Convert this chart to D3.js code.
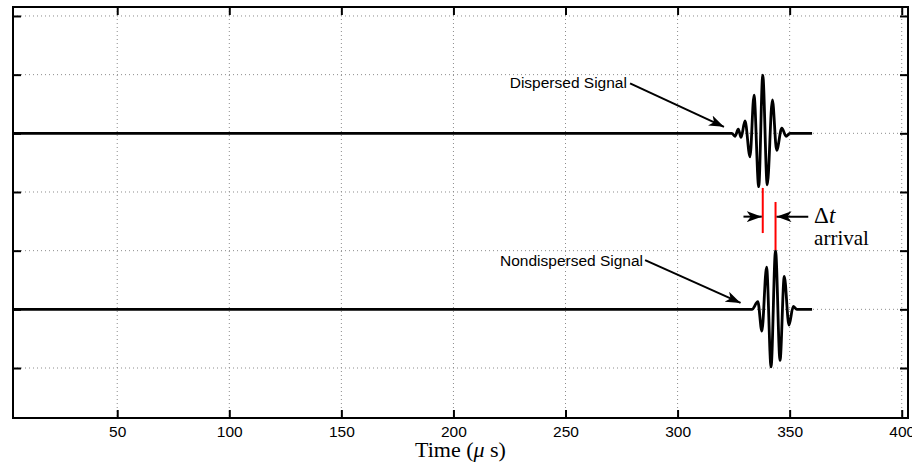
<!DOCTYPE html>
<html>
<head>
<meta charset="utf-8">
<script src="https://cdn.jsdelivr.net/npm/d3@7"></script>
<style>
  body { margin: 0; background: #fff; }
  #chart svg { display: block; }
</style>
</head>
<body>
<div id="chart"></div>
<script>
// tick values
var xTicks = [50, 100, 150, 200, 250, 300, 350, 400];
var yTicks = [-1, 0, 1, 2, 3, 4, 5];

// dispersed signal (extrema), plotted shifted up
var timeDispersed = [3.5, 324.2, 325.6, 327.1, 328.3, 330.1, 332.3, 334.1, 336.2, 338.0, 340.0, 342.3, 344.2, 346.5, 348.4, 350.1, 360];
var ampDispersed  = [0, 0, -0.05, 0.07, -0.07, 0.21, -0.40, 0.65, -0.91, 0.99, -0.88, 0.57, -0.29, 0.09, -0.05, 0, 0];
var offsetDispersed = 3;

// nondispersed signal
var timeNondispersed = [3.5, 333.2, 335.8, 337.6, 339.7, 341.7, 343.7, 345.7, 347.6, 349.7, 351.6, 353.2, 360];
var ampNondispersed  = [0, 0, 0.13, -0.37, 0.72, -0.98, 1.0, -0.87, 0.56, -0.27, 0.05, 0, 0];

function chart() {
  var margin = {top: 7, right: 4, bottom: 48, left: 13};
  var w = 912 - margin.left - margin.right;
  var h = 466 - margin.top - margin.bottom;

  var x = d3.scaleLinear()
            .domain([3.5, 402.8])
            .range([0, w]);

  var y = d3.scaleLinear()
            .domain([-1.852, 5.153])
            .range([h, 0]);

  var svg = d3.select("#chart")
              .append("svg")
              .attr("width", 912)
              .attr("height", 466);

  // arrow head, swept back like matlab's annotation arrow
  svg.append("defs")
     .append("marker")
     .attr("id", "head")
     .attr("viewBox", "0 0 15 11")
     .attr("refX", 15)
     .attr("refY", 5.5)
     .attr("markerWidth", 15)
     .attr("markerHeight", 11)
     .attr("markerUnits", "userSpaceOnUse")
     .attr("orient", "auto")
     .append("path")
     .attr("d", "M0,0 L15,5.5 L0,11 L4,5.5 Z")
     .attr("fill", "#000");

  var g = svg.append("g")
             .attr("transform", "translate(" + margin.left + "," + margin.top + ")");

  // dotted grid
  g.selectAll(".vgrid")
   .data(xTicks)
   .enter()
   .append("line")
   .attr("x1", function(d) { return x(d); })
   .attr("x2", function(d) { return x(d); })
   .attr("y1", 0)
   .attr("y2", h)
   .attr("stroke", "#8c8c8c")
   .attr("stroke-width", 1)
   .attr("stroke-dasharray", "1,3");

  g.selectAll(".hgrid")
   .data(yTicks)
   .enter()
   .append("line")
   .attr("x1", 0)
   .attr("x2", w)
   .attr("y1", function(d) { return y(d); })
   .attr("y2", function(d) { return y(d); })
   .attr("stroke", "#8c8c8c")
   .attr("stroke-width", 1)
   .attr("stroke-dasharray", "1,3");

  var line = d3.line()
               .x(function(d) { return x(d[0]); })
               .y(function(d) { return y(d[1]); })
               .curve(d3.curveMonotoneX);

  var dispersed = timeDispersed.map(function(t, i) { return [t, ampDispersed[i] + offsetDispersed]; });
  var nondispersed = timeNondispersed.map(function(t, i) { return [t, ampNondispersed[i]]; });

  g.append("path")
   .datum(dispersed)
   .attr("d", line)
   .attr("fill", "none")
   .attr("stroke", "#000")
   .attr("stroke-width", 2.8);

  g.append("path")
   .datum(nondispersed)
   .attr("d", line)
   .attr("fill", "none")
   .attr("stroke", "#000")
   .attr("stroke-width", 2.8);

  // arrival times = peaks of each signal
  var tPeakD = timeDispersed[d3.maxIndex(ampDispersed)];
  var tPeakN = timeNondispersed[d3.maxIndex(ampNondispersed)];

  g.append("line")
   .attr("x1", x(tPeakD)).attr("x2", x(tPeakD))
   .attr("y1", y(2.07)).attr("y2", y(1.30))
   .attr("stroke", "#ff0000")
   .attr("stroke-width", 2);

  g.append("line")
   .attr("x1", x(tPeakN)).attr("x2", x(tPeakN))
   .attr("y1", y(1.83)).attr("y2", y(1.01))
   .attr("stroke", "#ff0000")
   .attr("stroke-width", 2);

  // delta t arrows
  g.append("line")
   .attr("x1", x(tPeakD - 8.6)).attr("x2", x(tPeakD) - 1)
   .attr("y1", y(1.58)).attr("y2", y(1.58))
   .attr("stroke", "#000")
   .attr("stroke-width", 2)
   .attr("marker-end", "url(#head)");

  g.append("line")
   .attr("x1", x(tPeakN + 14.6)).attr("x2", x(tPeakN) + 1)
   .attr("y1", y(1.58)).attr("y2", y(1.58))
   .attr("stroke", "#000")
   .attr("stroke-width", 2)
   .attr("marker-end", "url(#head)");

  var dt = g.append("text")
            .attr("x", x(360.9))
            .attr("y", y(1.48))
            .attr("font-family", "Liberation Serif, Times New Roman, serif")
            .attr("font-size", 23)
            .attr("fill", "#000");
  dt.append("tspan").text("\u0394");
  dt.append("tspan").attr("font-style", "italic").text("t");

  g.append("text")
   .attr("x", x(360.9))
   .attr("y", y(1.10))
   .attr("font-family", "Liberation Serif, Times New Roman, serif")
   .attr("font-size", 21)
   .attr("fill", "#000")
   .text("arrival");

  // signal labels with arrows
  g.append("text")
   .attr("x", x(277.4))
   .attr("y", y(3.78))
   .attr("text-anchor", "end")
   .attr("font-family", "Liberation Sans, Arial, sans-serif")
   .attr("font-size", 15.5)
   .text("Dispersed Signal");

  g.append("line")
   .attr("x1", x(278.8)).attr("y1", y(3.85))
   .attr("x2", x(320.7)).attr("y2", y(3.11))
   .attr("stroke", "#000")
   .attr("stroke-width", 2)
   .attr("marker-end", "url(#head)");

  g.append("text")
   .attr("x", x(284.6))
   .attr("y", y(0.74))
   .attr("text-anchor", "end")
   .attr("font-family", "Liberation Sans, Arial, sans-serif")
   .attr("font-size", 15.5)
   .text("Nondispersed Signal");

  g.append("line")
   .attr("x1", x(285.5)).attr("y1", y(0.84))
   .attr("x2", x(328.1)).attr("y2", y(0.11))
   .attr("stroke", "#000")
   .attr("stroke-width", 2)
   .attr("marker-end", "url(#head)");

  // axes, ticks pointing inwards on all four sides
  var xAxis = g.append("g")
               .attr("transform", "translate(0," + h + ")")
               .call(d3.axisBottom(x).tickValues(xTicks).tickSizeInner(-8).tickSizeOuter(0).tickPadding(8));
  g.append("g")
   .call(d3.axisTop(x).tickValues(xTicks).tickSizeInner(-8).tickSizeOuter(0).tickFormat(""));
  g.append("g")
   .call(d3.axisLeft(y).tickValues(yTicks).tickSizeInner(-8).tickSizeOuter(0).tickFormat(""));
  g.append("g")
   .attr("transform", "translate(" + w + ",0)")
   .call(d3.axisRight(y).tickValues(yTicks).tickSizeInner(-8).tickSizeOuter(0).tickFormat(""));

  g.selectAll(".domain").remove();
  g.selectAll(".tick line")
   .attr("stroke", "#000")
   .attr("stroke-width", 2);

  xAxis.selectAll("text")
       .attr("font-family", "Liberation Sans, Arial, sans-serif")
       .attr("font-size", 15.5)
       .attr("fill", "#000");

  g.append("rect")
   .attr("width", w)
   .attr("height", h)
   .attr("fill", "none")
   .attr("stroke", "#000")
   .attr("stroke-width", 2);

  var label = g.append("text")
               .attr("x", w / 2)
               .attr("y", h + 39)
               .attr("text-anchor", "middle")
               .attr("font-family", "Liberation Serif, Times New Roman, serif")
               .attr("font-size", 22)
               .attr("fill", "#000");
  label.append("tspan").text("Time (");
  label.append("tspan").attr("font-style", "italic").text("\u03bc");
  label.append("tspan").text(" s)");
}

function main() {
  chart();
}

window.onload = function() {
  main();
};
</script>
</body>
</html>
